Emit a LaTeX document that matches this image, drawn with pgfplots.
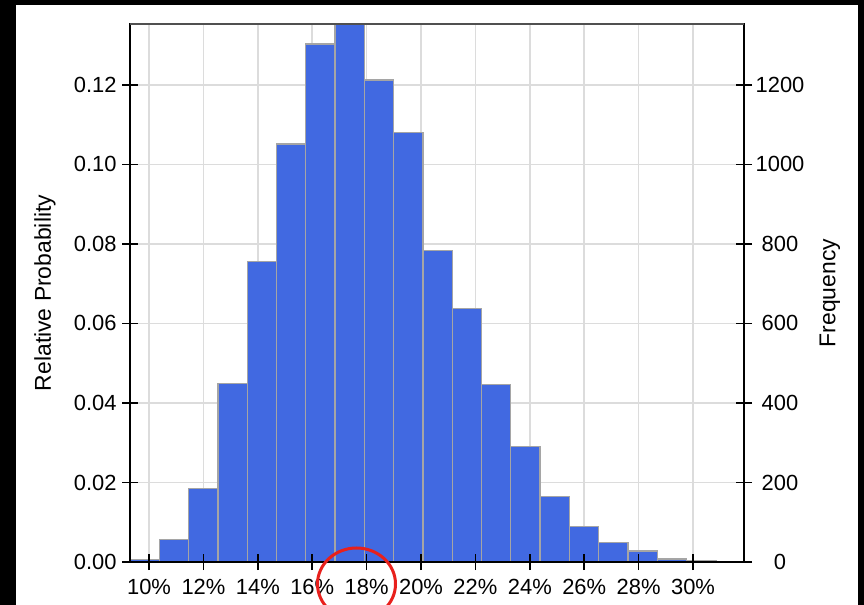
\documentclass[border=0pt]{standalone}
\usepackage{fontspec}
\setmainfont{Liberation Sans}
\usepackage{pgfplots}
\pgfplotsset{compat=1.18}
\definecolor{barblue}{RGB}{65,105,225}
\definecolor{baredge}{RGB}{165,165,165}
\definecolor{gridgray}{RGB}{220,220,220}
\definecolor{topline}{RGB}{80,80,80}
\definecolor{circlered}{RGB}{232,32,28}
\begin{document}
\begin{tikzpicture}
\useasboundingbox (0,0) rectangle (864bp,605bp);
\clip (0,0) rectangle (864bp,605bp);
\fill[black] (0,0) rectangle (864bp,605bp);
\fill[white] (16bp,0) rectangle (858bp,600bp);
\begin{axis}[
  at={(130bp,43bp)}, anchor=south west,
  scale only axis, width=614bp, height=538bp,
  xmin=9.30, xmax=31.875, ymin=0, ymax=0.1353,
  ybar, bar width=1.077,
  xtick={10,12,14,16,18,20,22,24,26,28,30},
  xticklabels={10\%,12\%,14\%,16\%,18\%,20\%,22\%,24\%,26\%,28\%,30\%},
  ytick={0,0.02,0.04,0.06,0.08,0.10,0.12},
  yticklabels={0.00,0.02,0.04,0.06,0.08,0.10,0.12},
  xtick pos=lower, ytick pos=left,
  major tick length=0pt,
  axis line style={draw=none},
  grid=major, grid style={gridgray, line width=1.5bp},
  tick label style={font=\fontsize{22}{24}\selectfont, text=black},
  yticklabel style={xshift=-10bp},
  xticklabel style={yshift=-14bp},
  every axis y label/.style={at={(axis description cs:-0.1384,0.5)}, rotate=90, anchor=center, font=\fontsize{23}{26}\selectfont},
  ylabel={Relative Probability},
]
\addplot[fill=barblue, draw=baredge, line width=1.3bp] coordinates {
(9.8385,0.00063)
(10.9155,0.00573)
(11.9925,0.01854)
(13.0695,0.04487)
(14.1465,0.0755)
(15.2235,0.1051)
(16.3005,0.1303)
(17.3775,0.1353)
(18.4545,0.1212)
(19.5315,0.1081)
(20.6085,0.0783)
(21.6855,0.0637)
(22.7625,0.0447)
(23.8395,0.0290)
(24.9165,0.01643)
(25.9935,0.00888)
(27.0705,0.00486)
(28.1475,0.00277)
(29.2245,0.00075)
(30.3015,0.0003)
};
\end{axis}
\begin{axis}[
  at={(130bp,43bp)}, anchor=south west,
  scale only axis, width=614bp, height=538bp,
  xmin=9.30, xmax=31.875, ymin=0, ymax=1353,
  xtick={10,12,14,16,18,20,22,24,26,28,30},
  xticklabels={},
  ytick={0,200,400,600,800,1000,1200},
  yticklabels={0,200,400,600,800,1000,1200},
  xtick pos=lower, ytick pos=both, yticklabel pos=right,
  tick align=center, major tick length=16bp,
  tick style={black, line width=1.5bp},
  axis line style={black, line width=1.6bp},
  tick label style={font=\fontsize{22}{24}\selectfont, text=black},
  yticklabel style={anchor=center, xshift=28bp},
  every axis y label/.style={at={(axis description cs:1.140,0.5)}, rotate=90, anchor=center, font=\fontsize{23}{26}\selectfont},
  ylabel={Frequency},
]
\draw[topline, line width=2bp] (rel axis cs:0,1) -- (rel axis cs:1,1);
\end{axis}
\draw[circlered, line width=3bp] (356.5bp,21bp) ellipse [x radius=39bp, y radius=36bp];
\end{tikzpicture}
\end{document}
